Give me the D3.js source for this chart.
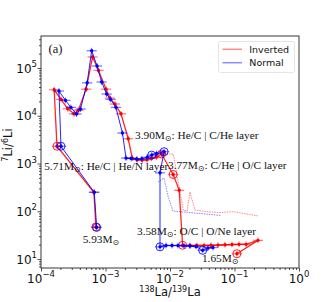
<!DOCTYPE html>
<html><head><meta charset="utf-8">
<script src="https://cdn.jsdelivr.net/npm/d3@7"></script>
<style>body{margin:0;background:#fff}</style>
</head><body>
<svg id="c" width="332" height="302"></svg>
<script>
// ---- data ----
const xTicks = [1e-4, 1e-3, 1e-2, 1e-1, 1];
const xTickExp = ["\u22124", "\u22123", "\u22122", "\u22121", "0"];
const yTicks = [10, 100, 1000, 1e4, 1e5];
const yTickExp = ["1", "2", "3", "4", "5"];

const invertedX = [7.1e-4, 6.6e-4, 1.77e-4, 1.6e-4, 2.05e-4, 2.6e-4, 3.25e-4, 3.8e-4, 5.0e-4, 6.3e-4, 7.8e-4, 1.02e-3, 1.17e-3, 1.4e-3, 1.74e-3, 2.25e-3, 2.6e-3, 3.1e-3, 3.7e-3, 4.4e-3, 5.2e-3, 6.2e-3, 7.4e-3, 1.12e-2, 1.39e-2, 1.57e-2, 2.04e-2, 2.62e-2, 3.37e-2, 4.32e-2, 5.55e-2, 7.13e-2, 9.15e-2, 1.175e-1, 1.51e-1, 2.31e-1, 1.09e-1];
const invertedY = [47, 250, 2300, 3.5e4, 2.2e4, 1.4e4, 1.1e4, 1.3e4, 3.6e4, 1.7e5, 8.9e4, 3.6e4, 2.35e4, 1.76e4, 1.1e4, 3300, 1300, 1200, 1180, 1200, 1290, 1370, 1580, 590, 275, 19.4, 19.2, 19.2, 19.2, 19.4, 19.6, 19.9, 20.1, 20.3, 20.3, 24.6, 12.9];

const normalX = [7.3e-4, 6.7e-4, 2.04e-4, 1.9e-4, 2.4e-4, 2.9e-4, 3.55e-4, 4.1e-4, 5.2e-4, 6.1e-4, 7.4e-4, 8.7e-4, 1.04e-3, 1.2e-3, 1.45e-3, 1.83e-3, 2.08e-3, 2.5e-3, 3.05e-3, 3.65e-3, 4.45e-3, 5.2e-3, 6.2e-3, 8.1e-3, 7.0e-3, 7.0e-3, 8.67e-3, 1.074e-2, 1.33e-2, 1.65e-2, 2.04e-2, 2.53e-2, 3.21e-2, 3.88e-2, 4.64e-2];
const normalY = [46, 250, 2300, 3.3e4, 2.1e4, 1.5e4, 1.09e4, 1.38e4, 4.9e4, 2.3e5, 1.1e5, 5.1e4, 2.85e4, 2.2e4, 1.5e4, 4350, 1300, 1270, 1240, 1260, 1350, 1500, 1620, 1770, 640, 18, 19.2, 19.2, 19.2, 18.9, 18.7, 18.3, 15.2, 17.0, 17.4];

const invertedThinX = [7.4e-3, 1.125e-2, 1.61e-2, 1.84e-2, 2.04e-2, 2.44e-2, 3.75e-2, 5.75e-2, 9.48e-2, 2.31e-1];
const invertedThinY = [1580, 1580, 106, 101, 253, 106, 98, 94, 98, 80];
const normalThinX = [6.52e-3, 8.07e-3, 9.31e-3, 1.11e-2, 1.71e-2, 2.92e-2, 6.18e-2];
const normalThinY = [410, 497, 208, 101, 96, 90, 81.5];

const invertedCircleX = [7.1e-4, 1.77e-4, 7.4e-3, 1.12e-2, 1.57e-2, 1.09e-1];
const invertedCircleY = [47, 2300, 1580, 590, 19.4, 12.9];
const normalCircleX = [7.3e-4, 2.04e-4, 5.2e-3, 8.1e-3, 7.0e-3, 3.21e-2];
const normalCircleY = [46, 2300, 1500, 1770, 18, 15.2];

const noteMass = ["3.90", "3.77", "5.71", "5.93", "3.58", "1.65"];
const noteText = [": He/C | C/He layer", ": C/He | O/C layer", ": He/C | He/N layer", "", ": O/C | O/Ne layer", ""];
const noteX = [2.87e-3, 9.31e-3, 1.12e-4, 4.43e-4, 3.08e-3, 3.13e-2];
const noteY = [3340, 767, 721, 21.6, 32.6, 8.65];

const seriesNames = ["Inverted", "Normal"];

// ---- chart ----
const L = 41, R = 299, T = 36, B = 268;
const svg = d3.select("#c");
const x = d3.scaleLog().domain([1e-4, 1]).range([L, R]);
const y = d3.scaleLog().domain([6.49, 4.68e5]).range([B, T]);
const RED = "#ff0000", BLUE = "#0000ff";
const xErr = 1.2, yErr = 1.15;

function minors(lo, hi) {
  const out = [];
  for (let e = Math.floor(Math.log10(lo)); e <= Math.ceil(Math.log10(hi)); e++)
    for (let k = 2; k <= 9; k++) { const v = k * Math.pow(10, e); if (v >= lo && v <= hi) out.push(v); }
  return out;
}

// axes
svg.append("g").attr("transform", `translate(0,${B})`)
  .call(d3.axisBottom(x).tickValues(xTicks).tickSize(3.5).tickFormat(""));
svg.append("g").attr("transform", `translate(0,${B})`)
  .call(d3.axisBottom(x).tickValues(minors(1e-4, 1)).tickSize(2).tickFormat(""));
svg.append("g").attr("transform", `translate(${L},0)`)
  .call(d3.axisLeft(y).tickValues(yTicks).tickSize(3.5).tickFormat(""));
svg.append("g").attr("transform", `translate(${L},0)`)
  .call(d3.axisLeft(y).tickValues(minors(6.49, 4.68e5)).tickSize(2).tickFormat(""));
svg.selectAll(".domain").remove();
svg.selectAll(".tick line").attr("stroke", "#222").attr("stroke-width", 0.8);

xTicks.forEach((v, i) => {
  const t = svg.append("text").attr("x", x(v)).attr("y", 282.5).attr("text-anchor", "middle")
    .attr("font-family", "DejaVu Sans").attr("font-size", 12).attr("fill", "#111");
  t.append("tspan").text("10");
  t.append("tspan").attr("dy", -5.5).attr("font-size", 8.5).text(xTickExp[i]);
});
yTicks.forEach((v, i) => {
  const t = svg.append("text").attr("x", 37).attr("y", y(v) + 4.5).attr("text-anchor", "end")
    .attr("font-family", "DejaVu Sans").attr("font-size", 12).attr("fill", "#111");
  t.append("tspan").text("10");
  t.append("tspan").attr("dy", -5.5).attr("font-size", 8.5).text(yTickExp[i]);
});

// axis labels
const xl = svg.append("text").attr("x", (L + R) / 2).attr("y", 296).attr("text-anchor", "middle")
  .attr("font-family", "DejaVu Sans").attr("font-size", 11.5).attr("fill", "#111");
xl.append("tspan").attr("font-size", 8).attr("dy", -4).text("138");
xl.append("tspan").attr("dy", 4).text("La/");
xl.append("tspan").attr("font-size", 8).attr("dy", -4).text("139");
xl.append("tspan").attr("dy", 4).text("La");

const yl = svg.append("text").attr("transform", `translate(12,145) rotate(-90)`)
  .attr("text-anchor", "middle").attr("font-family", "DejaVu Sans").attr("font-size", 11.5).attr("fill", "#111");
yl.append("tspan").attr("font-size", 8).attr("dy", -4).text("7");
yl.append("tspan").attr("dy", 4).text("Li/");
yl.append("tspan").attr("font-size", 8).attr("dy", -4).text("6");
yl.append("tspan").attr("dy", 4).text("Li");

// plot content
const plot = svg.append("g");
const line = d3.line().x(d => x(d[0])).y(d => y(d[1]));

function drawThin(xs, ys, col) {
  plot.append("path").datum(xs.map((v, i) => [v, ys[i]])).attr("d", line)
    .attr("fill", "none").attr("stroke", col).attr("stroke-width", 0.8)
    .attr("stroke-dasharray", "1.5,1").attr("opacity", 0.6);
}
drawThin(invertedThinX, invertedThinY, RED);
drawThin(normalThinX, normalThinY, BLUE);

function drawSeries(xs, ys, cxs, cys, col, w) {
  const pts = xs.map((v, i) => [v, ys[i]]);
  const g = plot.append("g");
  g.append("path").datum(pts).attr("d", line).attr("fill", "none")
    .attr("stroke", col).attr("stroke-width", w).attr("opacity", 0.85);
  g.selectAll(".eh").data(pts).join("line")
    .attr("x1", d => x(d[0] / xErr)).attr("x2", d => x(d[0] * xErr))
    .attr("y1", d => y(d[1])).attr("y2", d => y(d[1]))
    .attr("stroke", col).attr("stroke-width", 1.3).attr("opacity", 0.5);
  g.selectAll(".ev").data(pts).join("line")
    .attr("x1", d => x(d[0])).attr("x2", d => x(d[0]))
    .attr("y1", d => y(d[1] / yErr)).attr("y2", d => y(d[1] * yErr))
    .attr("stroke", col).attr("stroke-width", 1).attr("opacity", 0.6);
  g.selectAll(".pt").data(pts).join("circle")
    .attr("cx", d => x(d[0])).attr("cy", d => y(d[1])).attr("r", 1.7).attr("fill", col);
  g.selectAll(".oc").data(cxs.map((v, i) => [v, cys[i]])).join("circle")
    .attr("cx", d => x(d[0])).attr("cy", d => y(d[1])).attr("r", 4)
    .attr("fill", "none").attr("stroke", col).attr("stroke-width", 1).attr("opacity", 0.85);
}
drawSeries(invertedX, invertedY, invertedCircleX, invertedCircleY, RED, 1.3);
drawSeries(normalX, normalY, normalCircleX, normalCircleY, BLUE, 1.0);

// annotations
noteMass.forEach((m, i) => {
  const t = svg.append("text").attr("x", x(noteX[i])).attr("y", y(noteY[i]))
    .attr("font-family", "Liberation Serif").attr("font-size", 11.3).attr("fill", "#111");
  t.append("tspan").text(m + "M");
  t.append("tspan").attr("dy", 2).attr("font-size", 8).attr("font-family", "DejaVu Sans").text("\u2299");
  t.append("tspan").attr("dy", -2).text(noteText[i]);
});

svg.append("text").attr("x", 48.5).attr("y", 52.5).attr("font-family", "Liberation Serif")
  .attr("font-size", 12.5).attr("fill", "#111").text("(a)");

// legend
const lg = svg.append("g");
lg.append("rect").attr("x", 218.5).attr("y", 41.5).attr("width", 76).attr("height", 31).attr("rx", 2)
  .attr("fill", "#fff").attr("fill-opacity", 0.8).attr("stroke", "#ddd").attr("stroke-width", 0.8);
[RED, BLUE].forEach((c, i) => {
  const yy = 49.3 + i * 13.4;
  lg.append("line").attr("x1", 222.5).attr("x2", 242).attr("y1", yy).attr("y2", yy)
    .attr("stroke", c).attr("stroke-width", 1.5).attr("opacity", 0.45);
  lg.append("text").attr("x", 249.3).attr("y", yy + 3.4).attr("font-family", "DejaVu Sans")
    .attr("font-size", 9.5).attr("fill", "#111").text(seriesNames[i]);
});

// frame
svg.append("rect").attr("x", L).attr("y", T).attr("width", R - L).attr("height", B - T)
  .attr("fill", "none").attr("stroke", "#222").attr("stroke-width", 0.9);
</script>
</body></html>
